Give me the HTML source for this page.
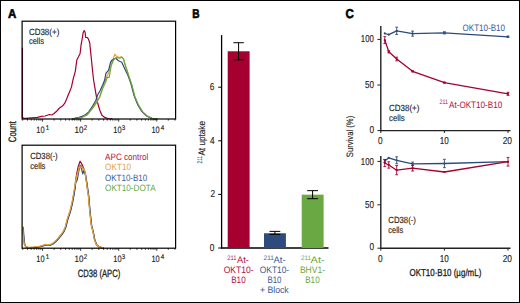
<!DOCTYPE html>
<html><head><meta charset="utf-8"><style>
html,body{margin:0;padding:0;background:#fff;}
body{width:520px;height:303px;overflow:hidden;}
svg{display:block;font-family:"Liberation Sans", sans-serif;}
text{text-rendering:geometricPrecision;}
</style></head><body>
<svg width="520" height="303" viewBox="0 0 520 303">
<g id="gfx">
<rect x="0.5" y="0.5" width="519" height="302" fill="#fff" stroke="#000" stroke-width="1"/>
<polyline points="22.4,48.0 22.4,117.5 23.9,118.1 25.8,118.4 31.6,117.9 37.4,117.3 41.2,116.3 45.1,116.0 49.4,114.5 51.8,115.0 53.7,113.8 56.6,111.3 59.5,108.0 62.4,106.1 64.8,103.2 66.7,98.8 68.2,95.0 70.1,90.4 71.5,86.9 73.3,78.4 75.3,71.3 76.8,60.0 78.5,56.7 80.1,53.4 81.1,44.8 82.4,37.5 83.1,32.9 84.2,30.5 85.1,32.3 85.7,37.5 87.1,37.5 88.4,38.9 89.7,42.8 90.6,51.4 91.4,59.3 92.7,72.3 93.6,80.0 95.0,88.3 96.4,96.6 97.8,103.5 99.9,110.5 101.9,115.3 104.7,117.4 108.2,118.5 112.0,118.8" fill="none" stroke="#a5002f" stroke-width="1.2" stroke-linejoin="round" stroke-linecap="round"/>
<polyline points="73.0,118.8 81.0,117.6 87.0,114.8 91.5,109.5 94.3,106.3 97.0,102.0 99.5,97.5 101.5,92.0 103.3,84.6 107.3,75.4 109.2,71.4 111.9,62.2 113.2,58.9 114.8,54.2 116.5,56.2 119.1,57.5 121.1,56.9 123.1,58.2 124.8,63.5 128.8,76.0 131.5,84.6 134.5,96.6 138.0,104.9 142.2,111.9 147.0,116.3 151.9,118.4 156.7,118.8" fill="none" stroke="#e9a23b" stroke-width="1.2" stroke-linejoin="round" stroke-linecap="round"/>
<polyline points="72.2,118.8 79.1,117.4 84.6,115.3 88.8,111.9 92.9,105.6 95.7,100.8 97.8,94.5 99.9,91.1 102.6,85.2 104.7,80.0 105.9,73.4 108.6,70.1 110.6,62.2 111.9,60.2 113.9,58.9 115.8,58.2 118.5,60.8 121.8,62.2 123.8,66.8 125.1,69.4 127.3,74.0 128.6,77.0 131.2,84.6 134.1,95.6 137.6,104.4 141.8,111.4 146.7,116.0 151.5,118.3 156.7,118.8" fill="none" stroke="#2e4b7d" stroke-width="1.2" stroke-linejoin="round" stroke-linecap="round"/>
<polyline points="73.5,118.8 81.9,117.4 87.4,114.6 92.2,108.4 96.4,102.2 99.2,98.0 101.2,92.5 103.3,86.9 105.4,82.8 107.3,77.3 109.2,77.3 111.2,65.5 113.9,59.5 116.5,57.5 119.8,58.2 121.8,56.9 123.8,59.5 125.1,64.8 129.0,76.7 131.8,84.6 134.8,96.2 138.3,104.6 142.5,111.6 147.4,116.1 152.3,118.3 157.2,118.8" fill="none" stroke="#6aa844" stroke-width="1.2" stroke-linejoin="round" stroke-linecap="round"/>
<rect x="22.1" y="21.2" width="153.5" height="97.8" fill="none" stroke="#000" stroke-width="1.2"/>
<line x1="22.69" y1="119.00" x2="22.69" y2="120.60" stroke="#000" stroke-width="0.8"/>
<line x1="27.45" y1="119.00" x2="27.45" y2="120.60" stroke="#000" stroke-width="0.8"/>
<line x1="31.14" y1="119.00" x2="31.14" y2="120.60" stroke="#000" stroke-width="0.8"/>
<line x1="34.15" y1="119.00" x2="34.15" y2="120.60" stroke="#000" stroke-width="0.8"/>
<line x1="36.70" y1="119.00" x2="36.70" y2="120.60" stroke="#000" stroke-width="0.8"/>
<line x1="38.91" y1="119.00" x2="38.91" y2="120.60" stroke="#000" stroke-width="0.8"/>
<line x1="40.86" y1="119.00" x2="40.86" y2="120.60" stroke="#000" stroke-width="0.8"/>
<line x1="42.60" y1="119.00" x2="42.60" y2="121.60" stroke="#000" stroke-width="0.8"/>
<line x1="54.06" y1="119.00" x2="54.06" y2="120.60" stroke="#000" stroke-width="0.8"/>
<line x1="60.76" y1="119.00" x2="60.76" y2="120.60" stroke="#000" stroke-width="0.8"/>
<line x1="65.52" y1="119.00" x2="65.52" y2="120.60" stroke="#000" stroke-width="0.8"/>
<line x1="69.21" y1="119.00" x2="69.21" y2="120.60" stroke="#000" stroke-width="0.8"/>
<line x1="72.22" y1="119.00" x2="72.22" y2="120.60" stroke="#000" stroke-width="0.8"/>
<line x1="74.77" y1="119.00" x2="74.77" y2="120.60" stroke="#000" stroke-width="0.8"/>
<line x1="76.98" y1="119.00" x2="76.98" y2="120.60" stroke="#000" stroke-width="0.8"/>
<line x1="78.93" y1="119.00" x2="78.93" y2="120.60" stroke="#000" stroke-width="0.8"/>
<line x1="80.67" y1="119.00" x2="80.67" y2="121.60" stroke="#000" stroke-width="0.8"/>
<line x1="92.13" y1="119.00" x2="92.13" y2="120.60" stroke="#000" stroke-width="0.8"/>
<line x1="98.83" y1="119.00" x2="98.83" y2="120.60" stroke="#000" stroke-width="0.8"/>
<line x1="103.59" y1="119.00" x2="103.59" y2="120.60" stroke="#000" stroke-width="0.8"/>
<line x1="107.28" y1="119.00" x2="107.28" y2="120.60" stroke="#000" stroke-width="0.8"/>
<line x1="110.29" y1="119.00" x2="110.29" y2="120.60" stroke="#000" stroke-width="0.8"/>
<line x1="112.84" y1="119.00" x2="112.84" y2="120.60" stroke="#000" stroke-width="0.8"/>
<line x1="115.05" y1="119.00" x2="115.05" y2="120.60" stroke="#000" stroke-width="0.8"/>
<line x1="117.00" y1="119.00" x2="117.00" y2="120.60" stroke="#000" stroke-width="0.8"/>
<line x1="118.74" y1="119.00" x2="118.74" y2="121.60" stroke="#000" stroke-width="0.8"/>
<line x1="130.20" y1="119.00" x2="130.20" y2="120.60" stroke="#000" stroke-width="0.8"/>
<line x1="136.90" y1="119.00" x2="136.90" y2="120.60" stroke="#000" stroke-width="0.8"/>
<line x1="141.66" y1="119.00" x2="141.66" y2="120.60" stroke="#000" stroke-width="0.8"/>
<line x1="145.35" y1="119.00" x2="145.35" y2="120.60" stroke="#000" stroke-width="0.8"/>
<line x1="148.36" y1="119.00" x2="148.36" y2="120.60" stroke="#000" stroke-width="0.8"/>
<line x1="150.91" y1="119.00" x2="150.91" y2="120.60" stroke="#000" stroke-width="0.8"/>
<line x1="153.12" y1="119.00" x2="153.12" y2="120.60" stroke="#000" stroke-width="0.8"/>
<line x1="155.07" y1="119.00" x2="155.07" y2="120.60" stroke="#000" stroke-width="0.8"/>
<line x1="156.81" y1="119.00" x2="156.81" y2="121.60" stroke="#000" stroke-width="0.8"/>
<line x1="168.27" y1="119.00" x2="168.27" y2="120.60" stroke="#000" stroke-width="0.8"/>
<line x1="174.97" y1="119.00" x2="174.97" y2="120.60" stroke="#000" stroke-width="0.8"/>
<polyline points="23.0,227.3 23.7,238.3 24.6,244.8 25.8,246.7 28.1,247.6 34.2,247.3 40.3,246.4 44.5,245.2 46.3,244.6 49.4,245.2 52.4,244.0 56.1,240.9 58.3,238.5 61.7,234.3 63.5,231.7 65.5,227.3 67.1,220.8 68.8,215.3 70.2,211.3 72.1,203.3 73.1,198.3 74.8,188.3 76.5,174.8 78.2,166.5 80.1,161.2 82.3,164.9 83.9,169.0 85.3,174.0 86.5,182.0 87.9,191.5 88.7,197.2 89.7,209.7 91.4,225.2 93.2,232.3 94.5,239.4 96.3,244.3 98.6,246.6 101.7,247.6 103.2,248.0" fill="none" stroke="#a5002f" stroke-width="1.2" stroke-linejoin="round" stroke-linecap="round"/>
<polyline points="23.0,227.2 23.7,238.2 24.6,244.7 25.8,246.6 28.1,247.5 34.2,247.2 40.3,246.3 44.5,245.1 46.3,244.5 49.4,245.1 52.4,243.9 56.1,240.8 58.3,238.4 61.7,234.2 63.5,231.6 65.5,227.2 67.1,220.7 68.8,215.2 70.2,211.2 72.1,203.2 73.1,198.2 74.8,188.2 75.7,178.9 78.2,171.5 79.8,164.9 81.1,165.7 83.1,168.2 84.8,171.0 86.2,180.0 87.6,190.0 88.8,197.2 89.8,209.7 91.5,225.2 93.3,232.3 94.6,239.4 96.4,244.3 98.7,246.6 101.8,247.6 103.3,248.0" fill="none" stroke="#6aa844" stroke-width="1.2" stroke-linejoin="round" stroke-linecap="round"/>
<polyline points="23.3,227.5 24.0,238.5 24.9,245.0 26.1,246.9 28.4,247.8 34.5,247.5 40.6,246.6 44.8,245.4 46.6,244.8 49.7,245.4 52.7,244.2 56.4,241.1 58.6,238.7 62.0,234.5 63.8,231.9 65.8,227.5 67.4,221.0 69.1,215.5 70.5,211.5 72.4,203.5 73.4,198.5 75.1,188.5 75.7,183.0 77.3,179.7 79.0,169.8 80.6,165.7 81.8,169.8 82.8,173.9 83.9,170.6 85.6,174.8 87.0,183.0 88.2,192.0 88.9,197.3 89.9,209.8 91.6,225.3 93.4,232.4 94.7,239.5 96.5,244.4 98.8,246.7 101.9,247.7 103.4,248.1" fill="none" stroke="#2e4b7d" stroke-width="1.2" stroke-linejoin="round" stroke-linecap="round"/>
<polyline points="22.7,227.0 23.4,238.0 24.3,244.5 25.5,246.4 27.8,247.3 33.9,247.0 40.0,246.1 44.2,244.9 46.0,244.3 49.1,244.9 52.1,243.7 55.8,240.6 58.0,238.2 61.4,234.0 63.2,231.4 65.2,227.0 66.8,220.5 68.5,215.0 69.9,211.0 71.8,203.0 72.8,198.0 74.5,188.0 76.5,178.0 79.0,168.2 80.1,166.5 81.5,167.3 83.1,169.0 84.8,170.6 86.1,179.7 87.7,191.3 88.5,197.0 89.5,209.5 91.2,225.0 93.0,232.1 94.3,239.2 96.1,244.1 98.4,246.4 101.5,247.4 103.0,247.8" fill="none" stroke="#e9a23b" stroke-width="1.2" stroke-linejoin="round" stroke-linecap="round"/>
<rect x="22.1" y="145.2" width="153.5" height="103.0" fill="none" stroke="#000" stroke-width="1.2"/>
<line x1="22.69" y1="248.20" x2="22.69" y2="249.80" stroke="#000" stroke-width="0.8"/>
<line x1="27.45" y1="248.20" x2="27.45" y2="249.80" stroke="#000" stroke-width="0.8"/>
<line x1="31.14" y1="248.20" x2="31.14" y2="249.80" stroke="#000" stroke-width="0.8"/>
<line x1="34.15" y1="248.20" x2="34.15" y2="249.80" stroke="#000" stroke-width="0.8"/>
<line x1="36.70" y1="248.20" x2="36.70" y2="249.80" stroke="#000" stroke-width="0.8"/>
<line x1="38.91" y1="248.20" x2="38.91" y2="249.80" stroke="#000" stroke-width="0.8"/>
<line x1="40.86" y1="248.20" x2="40.86" y2="249.80" stroke="#000" stroke-width="0.8"/>
<line x1="42.60" y1="248.20" x2="42.60" y2="250.80" stroke="#000" stroke-width="0.8"/>
<line x1="54.06" y1="248.20" x2="54.06" y2="249.80" stroke="#000" stroke-width="0.8"/>
<line x1="60.76" y1="248.20" x2="60.76" y2="249.80" stroke="#000" stroke-width="0.8"/>
<line x1="65.52" y1="248.20" x2="65.52" y2="249.80" stroke="#000" stroke-width="0.8"/>
<line x1="69.21" y1="248.20" x2="69.21" y2="249.80" stroke="#000" stroke-width="0.8"/>
<line x1="72.22" y1="248.20" x2="72.22" y2="249.80" stroke="#000" stroke-width="0.8"/>
<line x1="74.77" y1="248.20" x2="74.77" y2="249.80" stroke="#000" stroke-width="0.8"/>
<line x1="76.98" y1="248.20" x2="76.98" y2="249.80" stroke="#000" stroke-width="0.8"/>
<line x1="78.93" y1="248.20" x2="78.93" y2="249.80" stroke="#000" stroke-width="0.8"/>
<line x1="80.67" y1="248.20" x2="80.67" y2="250.80" stroke="#000" stroke-width="0.8"/>
<line x1="92.13" y1="248.20" x2="92.13" y2="249.80" stroke="#000" stroke-width="0.8"/>
<line x1="98.83" y1="248.20" x2="98.83" y2="249.80" stroke="#000" stroke-width="0.8"/>
<line x1="103.59" y1="248.20" x2="103.59" y2="249.80" stroke="#000" stroke-width="0.8"/>
<line x1="107.28" y1="248.20" x2="107.28" y2="249.80" stroke="#000" stroke-width="0.8"/>
<line x1="110.29" y1="248.20" x2="110.29" y2="249.80" stroke="#000" stroke-width="0.8"/>
<line x1="112.84" y1="248.20" x2="112.84" y2="249.80" stroke="#000" stroke-width="0.8"/>
<line x1="115.05" y1="248.20" x2="115.05" y2="249.80" stroke="#000" stroke-width="0.8"/>
<line x1="117.00" y1="248.20" x2="117.00" y2="249.80" stroke="#000" stroke-width="0.8"/>
<line x1="118.74" y1="248.20" x2="118.74" y2="250.80" stroke="#000" stroke-width="0.8"/>
<line x1="130.20" y1="248.20" x2="130.20" y2="249.80" stroke="#000" stroke-width="0.8"/>
<line x1="136.90" y1="248.20" x2="136.90" y2="249.80" stroke="#000" stroke-width="0.8"/>
<line x1="141.66" y1="248.20" x2="141.66" y2="249.80" stroke="#000" stroke-width="0.8"/>
<line x1="145.35" y1="248.20" x2="145.35" y2="249.80" stroke="#000" stroke-width="0.8"/>
<line x1="148.36" y1="248.20" x2="148.36" y2="249.80" stroke="#000" stroke-width="0.8"/>
<line x1="150.91" y1="248.20" x2="150.91" y2="249.80" stroke="#000" stroke-width="0.8"/>
<line x1="153.12" y1="248.20" x2="153.12" y2="249.80" stroke="#000" stroke-width="0.8"/>
<line x1="155.07" y1="248.20" x2="155.07" y2="249.80" stroke="#000" stroke-width="0.8"/>
<line x1="156.81" y1="248.20" x2="156.81" y2="250.80" stroke="#000" stroke-width="0.8"/>
<line x1="168.27" y1="248.20" x2="168.27" y2="249.80" stroke="#000" stroke-width="0.8"/>
<line x1="174.97" y1="248.20" x2="174.97" y2="249.80" stroke="#000" stroke-width="0.8"/>
<line x1="221.60" y1="35.10" x2="221.60" y2="248.60" stroke="#000" stroke-width="1.3"/>
<line x1="221.00" y1="248.00" x2="328.50" y2="248.00" stroke="#000" stroke-width="1.3"/>
<line x1="218.20" y1="248.00" x2="221.60" y2="248.00" stroke="#000" stroke-width="1.0"/>
<line x1="218.20" y1="194.40" x2="221.60" y2="194.40" stroke="#000" stroke-width="1.0"/>
<line x1="218.20" y1="140.80" x2="221.60" y2="140.80" stroke="#000" stroke-width="1.0"/>
<line x1="218.20" y1="87.20" x2="221.60" y2="87.20" stroke="#000" stroke-width="1.0"/>
<rect x="227.7" y="51.29" width="21.90" height="196.71" fill="#a5002f"/>
<rect x="264.0" y="233.26" width="21.90" height="14.74" fill="#2e4b7d"/>
<rect x="301.7" y="194.67" width="21.90" height="53.33" fill="#6aa844"/>
<line x1="238.60" y1="42.71" x2="238.60" y2="59.86" stroke="#000" stroke-width="1.0"/>
<line x1="233.40" y1="42.71" x2="243.80" y2="42.71" stroke="#000" stroke-width="1.0"/>
<line x1="233.40" y1="59.86" x2="243.80" y2="59.86" stroke="#000" stroke-width="1.0"/>
<line x1="274.90" y1="231.38" x2="274.90" y2="234.33" stroke="#000" stroke-width="1.0"/>
<line x1="269.50" y1="231.38" x2="280.30" y2="231.38" stroke="#000" stroke-width="1.0"/>
<line x1="269.50" y1="234.33" x2="280.30" y2="234.33" stroke="#000" stroke-width="1.0"/>
<line x1="312.60" y1="190.65" x2="312.60" y2="198.69" stroke="#000" stroke-width="1.0"/>
<line x1="307.20" y1="190.65" x2="318.00" y2="190.65" stroke="#000" stroke-width="1.0"/>
<line x1="307.20" y1="198.69" x2="318.00" y2="198.69" stroke="#000" stroke-width="1.0"/>
<line x1="380.80" y1="25.90" x2="380.80" y2="131.20" stroke="#222" stroke-width="1.4"/>
<line x1="380.20" y1="130.60" x2="510.50" y2="130.60" stroke="#222" stroke-width="1.4"/>
<line x1="377.40" y1="130.60" x2="380.80" y2="130.60" stroke="#222" stroke-width="1.0"/>
<line x1="377.40" y1="85.00" x2="380.80" y2="85.00" stroke="#222" stroke-width="1.0"/>
<line x1="377.40" y1="39.40" x2="380.80" y2="39.40" stroke="#222" stroke-width="1.0"/>
<line x1="380.80" y1="130.60" x2="380.80" y2="133.00" stroke="#222" stroke-width="1.0"/>
<line x1="444.40" y1="130.60" x2="444.40" y2="133.00" stroke="#222" stroke-width="1.0"/>
<line x1="508.00" y1="130.60" x2="508.00" y2="133.00" stroke="#222" stroke-width="1.0"/>
<polyline points="384.8,33.5 388.8,34.7 396.7,30.8 412.6,33.7 444.4,32.8 508.0,36.8" fill="none" stroke="#2e4b7d" stroke-width="1.3" stroke-linejoin="round" stroke-linecap="round"/>
<circle cx="384.78" cy="33.47" r="1.1" fill="#2e4b7d"/>
<circle cx="388.75" cy="34.66" r="1.1" fill="#2e4b7d"/>
<line x1="396.70" y1="27.18" x2="396.70" y2="34.48" stroke="#2e4b7d" stroke-width="0.9"/>
<line x1="395.30" y1="27.18" x2="398.10" y2="27.18" stroke="#2e4b7d" stroke-width="0.9"/>
<line x1="395.30" y1="34.48" x2="398.10" y2="34.48" stroke="#2e4b7d" stroke-width="0.9"/>
<circle cx="396.70" cy="30.83" r="1.1" fill="#2e4b7d"/>
<line x1="412.60" y1="31.10" x2="412.60" y2="36.21" stroke="#2e4b7d" stroke-width="0.9"/>
<line x1="411.20" y1="31.10" x2="414.00" y2="31.10" stroke="#2e4b7d" stroke-width="0.9"/>
<line x1="411.20" y1="36.21" x2="414.00" y2="36.21" stroke="#2e4b7d" stroke-width="0.9"/>
<circle cx="412.60" cy="33.65" r="1.1" fill="#2e4b7d"/>
<line x1="444.40" y1="31.74" x2="444.40" y2="33.93" stroke="#2e4b7d" stroke-width="0.9"/>
<line x1="443.00" y1="31.74" x2="445.80" y2="31.74" stroke="#2e4b7d" stroke-width="0.9"/>
<line x1="443.00" y1="33.93" x2="445.80" y2="33.93" stroke="#2e4b7d" stroke-width="0.9"/>
<circle cx="444.40" cy="32.83" r="1.1" fill="#2e4b7d"/>
<line x1="508.00" y1="36.03" x2="508.00" y2="37.48" stroke="#2e4b7d" stroke-width="0.9"/>
<line x1="506.60" y1="36.03" x2="509.40" y2="36.03" stroke="#2e4b7d" stroke-width="0.9"/>
<line x1="506.60" y1="37.48" x2="509.40" y2="37.48" stroke="#2e4b7d" stroke-width="0.9"/>
<circle cx="508.00" cy="36.76" r="1.1" fill="#2e4b7d"/>
<polyline points="384.8,40.1 388.8,51.8 396.7,59.0 412.6,71.3 444.4,82.6 508.0,93.8" fill="none" stroke="#a5002f" stroke-width="1.3" stroke-linejoin="round" stroke-linecap="round"/>
<line x1="384.78" y1="36.66" x2="384.78" y2="43.60" stroke="#a5002f" stroke-width="0.9"/>
<line x1="383.38" y1="36.66" x2="386.18" y2="36.66" stroke="#a5002f" stroke-width="0.9"/>
<line x1="383.38" y1="43.60" x2="386.18" y2="43.60" stroke="#a5002f" stroke-width="0.9"/>
<circle cx="384.78" cy="40.13" r="1.1" fill="#a5002f"/>
<line x1="388.75" y1="50.71" x2="388.75" y2="52.90" stroke="#a5002f" stroke-width="0.9"/>
<line x1="387.35" y1="50.71" x2="390.15" y2="50.71" stroke="#a5002f" stroke-width="0.9"/>
<line x1="387.35" y1="52.90" x2="390.15" y2="52.90" stroke="#a5002f" stroke-width="0.9"/>
<circle cx="388.75" cy="51.80" r="1.1" fill="#a5002f"/>
<line x1="396.70" y1="57.18" x2="396.70" y2="60.83" stroke="#a5002f" stroke-width="0.9"/>
<line x1="395.30" y1="57.18" x2="398.10" y2="57.18" stroke="#a5002f" stroke-width="0.9"/>
<line x1="395.30" y1="60.83" x2="398.10" y2="60.83" stroke="#a5002f" stroke-width="0.9"/>
<circle cx="396.70" cy="59.01" r="1.1" fill="#a5002f"/>
<line x1="412.60" y1="70.77" x2="412.60" y2="71.87" stroke="#a5002f" stroke-width="0.9"/>
<line x1="411.20" y1="70.77" x2="414.00" y2="70.77" stroke="#a5002f" stroke-width="0.9"/>
<line x1="411.20" y1="71.87" x2="414.00" y2="71.87" stroke="#a5002f" stroke-width="0.9"/>
<circle cx="412.60" cy="71.32" r="1.1" fill="#a5002f"/>
<line x1="444.40" y1="82.17" x2="444.40" y2="83.08" stroke="#a5002f" stroke-width="0.9"/>
<line x1="443.00" y1="82.17" x2="445.80" y2="82.17" stroke="#a5002f" stroke-width="0.9"/>
<line x1="443.00" y1="83.08" x2="445.80" y2="83.08" stroke="#a5002f" stroke-width="0.9"/>
<circle cx="444.40" cy="82.63" r="1.1" fill="#a5002f"/>
<line x1="508.00" y1="92.30" x2="508.00" y2="95.40" stroke="#a5002f" stroke-width="0.9"/>
<line x1="506.60" y1="92.30" x2="509.40" y2="92.30" stroke="#a5002f" stroke-width="0.9"/>
<line x1="506.60" y1="95.40" x2="509.40" y2="95.40" stroke="#a5002f" stroke-width="0.9"/>
<circle cx="508.00" cy="93.85" r="1.1" fill="#a5002f"/>
<line x1="380.80" y1="156.00" x2="380.80" y2="248.80" stroke="#222" stroke-width="1.4"/>
<line x1="380.20" y1="248.20" x2="510.50" y2="248.20" stroke="#222" stroke-width="1.4"/>
<line x1="377.40" y1="248.20" x2="380.80" y2="248.20" stroke="#222" stroke-width="1.0"/>
<line x1="377.40" y1="204.80" x2="380.80" y2="204.80" stroke="#222" stroke-width="1.0"/>
<line x1="377.40" y1="161.40" x2="380.80" y2="161.40" stroke="#222" stroke-width="1.0"/>
<line x1="380.80" y1="248.20" x2="380.80" y2="250.60" stroke="#222" stroke-width="1.0"/>
<line x1="444.40" y1="248.20" x2="444.40" y2="250.60" stroke="#222" stroke-width="1.0"/>
<line x1="508.00" y1="248.20" x2="508.00" y2="250.60" stroke="#222" stroke-width="1.0"/>
<polyline points="384.8,161.0 388.8,157.8 396.7,160.3 412.6,163.8 444.4,163.5 508.0,161.7" fill="none" stroke="#2e4b7d" stroke-width="1.3" stroke-linejoin="round" stroke-linecap="round"/>
<line x1="384.78" y1="159.49" x2="384.78" y2="162.44" stroke="#2e4b7d" stroke-width="0.9"/>
<line x1="383.38" y1="159.49" x2="386.18" y2="159.49" stroke="#2e4b7d" stroke-width="0.9"/>
<line x1="383.38" y1="162.44" x2="386.18" y2="162.44" stroke="#2e4b7d" stroke-width="0.9"/>
<circle cx="384.78" cy="160.97" r="1.1" fill="#2e4b7d"/>
<circle cx="388.75" cy="157.84" r="1.1" fill="#2e4b7d"/>
<line x1="396.70" y1="156.80" x2="396.70" y2="163.74" stroke="#2e4b7d" stroke-width="0.9"/>
<line x1="395.30" y1="156.80" x2="398.10" y2="156.80" stroke="#2e4b7d" stroke-width="0.9"/>
<line x1="395.30" y1="163.74" x2="398.10" y2="163.74" stroke="#2e4b7d" stroke-width="0.9"/>
<circle cx="396.70" cy="160.27" r="1.1" fill="#2e4b7d"/>
<line x1="412.60" y1="162.09" x2="412.60" y2="165.57" stroke="#2e4b7d" stroke-width="0.9"/>
<line x1="411.20" y1="162.09" x2="414.00" y2="162.09" stroke="#2e4b7d" stroke-width="0.9"/>
<line x1="411.20" y1="165.57" x2="414.00" y2="165.57" stroke="#2e4b7d" stroke-width="0.9"/>
<circle cx="412.60" cy="163.83" r="1.1" fill="#2e4b7d"/>
<line x1="444.40" y1="159.32" x2="444.40" y2="167.65" stroke="#2e4b7d" stroke-width="0.9"/>
<line x1="443.00" y1="159.32" x2="445.80" y2="159.32" stroke="#2e4b7d" stroke-width="0.9"/>
<line x1="443.00" y1="167.65" x2="445.80" y2="167.65" stroke="#2e4b7d" stroke-width="0.9"/>
<circle cx="444.40" cy="163.48" r="1.1" fill="#2e4b7d"/>
<circle cx="508.00" cy="161.75" r="1.1" fill="#2e4b7d"/>
<polyline points="384.8,163.0 388.8,165.0 396.7,170.2 412.6,168.2 444.4,172.0 508.0,161.7" fill="none" stroke="#a5002f" stroke-width="1.3" stroke-linejoin="round" stroke-linecap="round"/>
<line x1="384.78" y1="159.49" x2="384.78" y2="166.61" stroke="#a5002f" stroke-width="0.9"/>
<line x1="383.38" y1="159.49" x2="386.18" y2="159.49" stroke="#a5002f" stroke-width="0.9"/>
<line x1="383.38" y1="166.61" x2="386.18" y2="166.61" stroke="#a5002f" stroke-width="0.9"/>
<circle cx="384.78" cy="163.05" r="1.1" fill="#a5002f"/>
<line x1="388.75" y1="161.75" x2="388.75" y2="168.17" stroke="#a5002f" stroke-width="0.9"/>
<line x1="387.35" y1="161.75" x2="390.15" y2="161.75" stroke="#a5002f" stroke-width="0.9"/>
<line x1="387.35" y1="168.17" x2="390.15" y2="168.17" stroke="#a5002f" stroke-width="0.9"/>
<circle cx="388.75" cy="164.96" r="1.1" fill="#a5002f"/>
<line x1="396.70" y1="165.57" x2="396.70" y2="174.77" stroke="#a5002f" stroke-width="0.9"/>
<line x1="395.30" y1="165.57" x2="398.10" y2="165.57" stroke="#a5002f" stroke-width="0.9"/>
<line x1="395.30" y1="174.77" x2="398.10" y2="174.77" stroke="#a5002f" stroke-width="0.9"/>
<circle cx="396.70" cy="170.17" r="1.1" fill="#a5002f"/>
<line x1="412.60" y1="165.31" x2="412.60" y2="171.03" stroke="#a5002f" stroke-width="0.9"/>
<line x1="411.20" y1="165.31" x2="414.00" y2="165.31" stroke="#a5002f" stroke-width="0.9"/>
<line x1="411.20" y1="171.03" x2="414.00" y2="171.03" stroke="#a5002f" stroke-width="0.9"/>
<circle cx="412.60" cy="168.17" r="1.1" fill="#a5002f"/>
<circle cx="444.40" cy="171.99" r="1.1" fill="#a5002f"/>
<line x1="508.00" y1="157.41" x2="508.00" y2="166.09" stroke="#a5002f" stroke-width="0.9"/>
<line x1="506.60" y1="157.41" x2="509.40" y2="157.41" stroke="#a5002f" stroke-width="0.9"/>
<line x1="506.60" y1="166.09" x2="509.40" y2="166.09" stroke="#a5002f" stroke-width="0.9"/>
<circle cx="508.00" cy="161.75" r="1.1" fill="#a5002f"/>
</g>
<text id="A" x="7.88" y="17.90" font-size="12.8" fill="#000" font-weight="bold" textLength="8.29" lengthAdjust="spacingAndGlyphs" stroke="#000" stroke-width="0.6">A</text>
<text id="B" x="192.37" y="18.10" font-size="12.8" fill="#000" font-weight="bold" textLength="7.31" lengthAdjust="spacingAndGlyphs" stroke="#000" stroke-width="0.6">B</text>
<text id="C" x="345.61" y="18.20" font-size="12.8" fill="#000" font-weight="bold" textLength="8.30" lengthAdjust="spacingAndGlyphs" stroke="#000" stroke-width="0.6">C</text>
<text id="t10_1" x="36.30" y="133.00" font-size="9.2" fill="#231f20" font-weight="normal" textLength="8.25" lengthAdjust="spacingAndGlyphs" stroke="#231f20" stroke-width="0.15">10</text>
<text id="tsup_1" x="45.85" y="129.60" font-size="6.8" fill="#231f20" font-weight="normal" textLength="3.48" lengthAdjust="spacingAndGlyphs" stroke="#231f20" stroke-width="0.15">1</text>
<text id="t10_2" x="74.50" y="133.00" font-size="9.2" fill="#231f20" font-weight="normal" textLength="8.95" lengthAdjust="spacingAndGlyphs" stroke="#231f20" stroke-width="0.15">10</text>
<text id="tsup_2" x="83.82" y="129.60" font-size="6.8" fill="#231f20" font-weight="normal" textLength="3.48" lengthAdjust="spacingAndGlyphs" stroke="#231f20" stroke-width="0.15">2</text>
<text id="t10_3" x="113.34" y="133.00" font-size="9.2" fill="#231f20" font-weight="normal" textLength="8.25" lengthAdjust="spacingAndGlyphs" stroke="#231f20" stroke-width="0.15">10</text>
<text id="tsup_3" x="121.65" y="129.60" font-size="6.8" fill="#231f20" font-weight="normal" textLength="3.48" lengthAdjust="spacingAndGlyphs" stroke="#231f20" stroke-width="0.15">3</text>
<text id="t10_4" x="151.45" y="133.00" font-size="9.2" fill="#231f20" font-weight="normal" textLength="8.25" lengthAdjust="spacingAndGlyphs" stroke="#231f20" stroke-width="0.15">10</text>
<text id="tsup_4" x="160.78" y="129.60" font-size="6.8" fill="#231f20" font-weight="normal" textLength="3.48" lengthAdjust="spacingAndGlyphs" stroke="#231f20" stroke-width="0.15">4</text>
<text id="aCD38p" x="28.90" y="34.50" font-size="9.0" fill="#231f20" font-weight="normal" textLength="30.40" lengthAdjust="spacingAndGlyphs" stroke="#231f20" stroke-width="0.15">CD38(+)</text>
<text id="acellsp" x="28.90" y="44.40" font-size="9.0" fill="#231f20" font-weight="normal" textLength="15.10" lengthAdjust="spacingAndGlyphs" stroke="#231f20" stroke-width="0.15">cells</text>
<text id="b10_1" x="36.30" y="262.20" font-size="9.2" fill="#231f20" font-weight="normal" textLength="8.25" lengthAdjust="spacingAndGlyphs" stroke="#231f20" stroke-width="0.15">10</text>
<text id="bsup_1" x="45.85" y="258.80" font-size="6.8" fill="#231f20" font-weight="normal" textLength="3.48" lengthAdjust="spacingAndGlyphs" stroke="#231f20" stroke-width="0.15">1</text>
<text id="b10_2" x="74.50" y="262.20" font-size="9.2" fill="#231f20" font-weight="normal" textLength="8.95" lengthAdjust="spacingAndGlyphs" stroke="#231f20" stroke-width="0.15">10</text>
<text id="bsup_2" x="83.82" y="258.80" font-size="6.8" fill="#231f20" font-weight="normal" textLength="3.48" lengthAdjust="spacingAndGlyphs" stroke="#231f20" stroke-width="0.15">2</text>
<text id="b10_3" x="113.34" y="262.20" font-size="9.2" fill="#231f20" font-weight="normal" textLength="8.25" lengthAdjust="spacingAndGlyphs" stroke="#231f20" stroke-width="0.15">10</text>
<text id="bsup_3" x="121.65" y="258.80" font-size="6.8" fill="#231f20" font-weight="normal" textLength="3.48" lengthAdjust="spacingAndGlyphs" stroke="#231f20" stroke-width="0.15">3</text>
<text id="b10_4" x="151.45" y="262.20" font-size="9.2" fill="#231f20" font-weight="normal" textLength="8.25" lengthAdjust="spacingAndGlyphs" stroke="#231f20" stroke-width="0.15">10</text>
<text id="bsup_4" x="160.78" y="258.80" font-size="6.8" fill="#231f20" font-weight="normal" textLength="3.48" lengthAdjust="spacingAndGlyphs" stroke="#231f20" stroke-width="0.15">4</text>
<text id="aCD38m" x="30.20" y="159.20" font-size="9.0" fill="#231f20" font-weight="normal" textLength="27.50" lengthAdjust="spacingAndGlyphs" stroke="#231f20" stroke-width="0.15">CD38(-)</text>
<text id="acellsm" x="30.20" y="169.30" font-size="9.0" fill="#231f20" font-weight="normal" textLength="15.23" lengthAdjust="spacingAndGlyphs" stroke="#231f20" stroke-width="0.15">cells</text>
<text id="lg1" x="105.10" y="159.70" font-size="9.2" fill="#b3123e" font-weight="normal" textLength="43.30" lengthAdjust="spacingAndGlyphs">APC control</text>
<text id="lg2" x="105.10" y="169.80" font-size="9.2" fill="#e9a23b" font-weight="normal" textLength="25.90" lengthAdjust="spacingAndGlyphs">OKT10</text>
<text id="lg3" x="105.10" y="180.70" font-size="9.2" fill="#3a5a96" font-weight="normal" textLength="42.10" lengthAdjust="spacingAndGlyphs">OKT10-B10</text>
<text id="lg4" x="105.10" y="191.10" font-size="9.2" fill="#6aa844" font-weight="normal" textLength="50.50" lengthAdjust="spacingAndGlyphs">OKT10-DOTA</text>
<text id="cd38apc" x="77.80" y="276.70" font-size="10.6" fill="#231f20" font-weight="normal" textLength="42.40" lengthAdjust="spacingAndGlyphs" stroke="#231f20" stroke-width="0.3">CD38 (APC)</text>
<text id="b6" x="209.68" y="89.80" font-size="10.1" fill="#231f20" font-weight="normal" textLength="4.61" lengthAdjust="spacingAndGlyphs" stroke="#231f20" stroke-width="0.15">6</text>
<text id="b4" x="210.12" y="143.80" font-size="10.1" fill="#231f20" font-weight="normal" textLength="4.61" lengthAdjust="spacingAndGlyphs" stroke="#231f20" stroke-width="0.15">4</text>
<text id="b2" x="210.47" y="197.20" font-size="10.1" fill="#231f20" font-weight="normal" textLength="4.61" lengthAdjust="spacingAndGlyphs" stroke="#231f20" stroke-width="0.15">2</text>
<text id="b0" x="209.78" y="250.80" font-size="10.1" fill="#231f20" font-weight="normal" textLength="4.61" lengthAdjust="spacingAndGlyphs" stroke="#231f20" stroke-width="0.15">0</text>
<text id="br_s" x="227.30" y="259.60" font-size="6.6" fill="#b3123e" font-weight="normal" textLength="9.30" lengthAdjust="spacingAndGlyphs">211</text>
<text id="br_1" x="237.00" y="262.70" font-size="9.4" fill="#b3123e" font-weight="normal" textLength="11.80" lengthAdjust="spacingAndGlyphs">At-</text>
<text id="br_2" x="223.70" y="272.50" font-size="9.4" fill="#b3123e" font-weight="normal" textLength="30.00" lengthAdjust="spacingAndGlyphs">OKT10-</text>
<text id="br_3" x="231.20" y="282.80" font-size="9.4" fill="#b3123e" font-weight="normal" textLength="14.50" lengthAdjust="spacingAndGlyphs">B10</text>
<text id="bb_s" x="263.60" y="259.60" font-size="6.6" fill="#3a5a96" font-weight="normal" textLength="10.30" lengthAdjust="spacingAndGlyphs">211</text>
<text id="bb_1" x="273.60" y="262.90" font-size="9.4" fill="#3a5a96" font-weight="normal" textLength="12.00" lengthAdjust="spacingAndGlyphs">At-</text>
<text id="bb_2" x="259.80" y="273.20" font-size="9.4" fill="#3a5a96" font-weight="normal" textLength="29.30" lengthAdjust="spacingAndGlyphs">OKT10-</text>
<text id="bb_3" x="267.40" y="283.10" font-size="9.4" fill="#3a5a96" font-weight="normal" textLength="14.10" lengthAdjust="spacingAndGlyphs">B10</text>
<text id="bb_4" x="259.90" y="293.00" font-size="9.4" fill="#3a5a96" font-weight="normal" textLength="28.80" lengthAdjust="spacingAndGlyphs">+ Block</text>
<text id="bg_s" x="300.90" y="259.60" font-size="6.6" fill="#6aa844" font-weight="normal" textLength="10.00" lengthAdjust="spacingAndGlyphs">211</text>
<text id="bg_1" x="310.60" y="262.70" font-size="9.4" fill="#6aa844" font-weight="normal" textLength="14.20" lengthAdjust="spacingAndGlyphs">At-</text>
<text id="bg_2" x="299.90" y="272.50" font-size="9.4" fill="#6aa844" font-weight="normal" textLength="25.10" lengthAdjust="spacingAndGlyphs">BHV1-</text>
<text id="bg_3" x="305.20" y="282.80" font-size="9.4" fill="#6aa844" font-weight="normal" textLength="14.50" lengthAdjust="spacingAndGlyphs">B10</text>
<text id="c100t" x="360.80" y="42.00" font-size="10.1" fill="#231f20" font-weight="normal" textLength="13.00" lengthAdjust="spacingAndGlyphs" stroke="#231f20" stroke-width="0.15">100</text>
<text id="c50t" x="365.00" y="87.60" font-size="10.1" fill="#231f20" font-weight="normal" textLength="9.00" lengthAdjust="spacingAndGlyphs" stroke="#231f20" stroke-width="0.15">50</text>
<text id="c0t" x="369.50" y="133.00" font-size="10.1" fill="#231f20" font-weight="normal" textLength="4.61" lengthAdjust="spacingAndGlyphs" stroke="#231f20" stroke-width="0.15">0</text>
<text id="cx0t" x="378.02" y="144.00" font-size="10.1" fill="#231f20" font-weight="normal" textLength="4.61" lengthAdjust="spacingAndGlyphs" stroke="#231f20" stroke-width="0.15">0</text>
<text id="cx10t" x="439.80" y="144.00" font-size="10.1" fill="#231f20" font-weight="normal" textLength="9.00" lengthAdjust="spacingAndGlyphs" stroke="#231f20" stroke-width="0.15">10</text>
<text id="cx20t" x="502.70" y="144.00" font-size="10.1" fill="#231f20" font-weight="normal" textLength="9.30" lengthAdjust="spacingAndGlyphs" stroke="#231f20" stroke-width="0.15">20</text>
<text id="c100b" x="360.80" y="164.60" font-size="10.1" fill="#231f20" font-weight="normal" textLength="13.00" lengthAdjust="spacingAndGlyphs" stroke="#231f20" stroke-width="0.15">100</text>
<text id="c50b" x="365.00" y="207.60" font-size="10.1" fill="#231f20" font-weight="normal" textLength="9.00" lengthAdjust="spacingAndGlyphs" stroke="#231f20" stroke-width="0.15">50</text>
<text id="c0b" x="369.50" y="250.40" font-size="10.1" fill="#231f20" font-weight="normal" textLength="4.61" lengthAdjust="spacingAndGlyphs" stroke="#231f20" stroke-width="0.15">0</text>
<text id="cx0b" x="378.02" y="262.00" font-size="10.1" fill="#231f20" font-weight="normal" textLength="4.61" lengthAdjust="spacingAndGlyphs" stroke="#231f20" stroke-width="0.15">0</text>
<text id="cx10b" x="439.80" y="262.00" font-size="10.1" fill="#231f20" font-weight="normal" textLength="9.00" lengthAdjust="spacingAndGlyphs" stroke="#231f20" stroke-width="0.15">10</text>
<text id="cx20b" x="502.70" y="262.00" font-size="10.1" fill="#231f20" font-weight="normal" textLength="9.30" lengthAdjust="spacingAndGlyphs" stroke="#231f20" stroke-width="0.15">20</text>
<text id="cblue" x="462.50" y="30.80" font-size="9.3" fill="#3a5a96" font-weight="normal" textLength="42.50" lengthAdjust="spacingAndGlyphs">OKT10-B10</text>
<text id="cred_s" x="439.50" y="104.00" font-size="6.6" fill="#b3123e" font-weight="normal" textLength="8.50" lengthAdjust="spacingAndGlyphs">211</text>
<text id="cred" x="449.00" y="107.60" font-size="9.3" fill="#b3123e" font-weight="normal" textLength="53.30" lengthAdjust="spacingAndGlyphs">At-OKT10-B10</text>
<text id="cCD38p" x="389.00" y="110.90" font-size="9.0" fill="#231f20" font-weight="normal" textLength="30.40" lengthAdjust="spacingAndGlyphs" stroke="#231f20" stroke-width="0.15">CD38(+)</text>
<text id="ccellsp" x="389.00" y="120.80" font-size="9.0" fill="#231f20" font-weight="normal" textLength="15.60" lengthAdjust="spacingAndGlyphs" stroke="#231f20" stroke-width="0.15">cells</text>
<text id="cCD38m" x="388.30" y="223.30" font-size="9.0" fill="#231f20" font-weight="normal" textLength="27.60" lengthAdjust="spacingAndGlyphs" stroke="#231f20" stroke-width="0.15">CD38(-)</text>
<text id="ccellsm" x="388.30" y="233.00" font-size="9.0" fill="#231f20" font-weight="normal" textLength="14.90" lengthAdjust="spacingAndGlyphs" stroke="#231f20" stroke-width="0.15">cells</text>
<text id="cxtitle" x="409.50" y="276.20" font-size="10.1" fill="#231f20" font-weight="normal" textLength="71.80" lengthAdjust="spacingAndGlyphs" stroke="#231f20" stroke-width="0.3">OKT10·B10 (µg/mL)</text>
<text id="rCount" stroke="#231f20" stroke-width="0.3" transform="translate(16.2,142.2) rotate(-90)" font-size="10.8" fill="#231f20" textLength="21" lengthAdjust="spacingAndGlyphs">Count</text>
<text id="rUp_s" transform="translate(201.6,163.4) rotate(-90)" font-size="6.8" fill="#231f20" textLength="7.6" lengthAdjust="spacingAndGlyphs">211</text>
<text id="rUp" stroke="#231f20" stroke-width="0.15" transform="translate(205.2,155.6) rotate(-90)" font-size="9.6" fill="#231f20" textLength="34.6" lengthAdjust="spacingAndGlyphs">At uptake</text>
<text id="rSurv" stroke="#231f20" stroke-width="0.12" transform="translate(352.9,157.2) rotate(-90)" font-size="9.4" fill="#231f20" textLength="41.4" lengthAdjust="spacingAndGlyphs">Survival (%)</text>
</svg>
</body></html>
